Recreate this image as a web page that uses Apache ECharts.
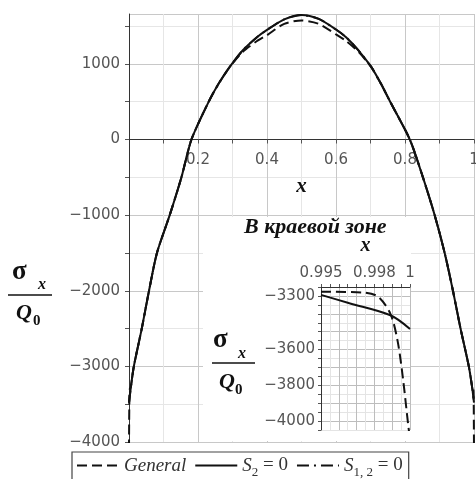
<!DOCTYPE html>
<html>
<head>
<meta charset="utf-8">
<script src="https://cdn.jsdelivr.net/npm/echarts@6/dist/echarts.min.js"></script>
<style>
html, body { margin: 0; padding: 0; background: #fff; }
#chart { width: 476px; height: 479px; }
</style>
</head>
<body>
<div id="chart"></div>
<script>
// main plot, S2 = 0 (solid); S1,2 = 0 lies on it
var mainX = [0, 0.005, 0.014, 0.037, 0.058, 0.081, 0.118, 0.152, 0.181, 0.231, 0.26, 0.292, 0.33, 0.37, 0.4, 0.45, 0.5,
    0.55, 0.6, 0.63, 0.665, 0.702, 0.73, 0.757, 0.814, 0.852, 0.886, 0.915, 0.939, 0.961, 0.985, 0.995, 1];
var s2Main = [-3480, -3290, -3000, -2500, -2000, -1500, -1000, -500, 0, 500, 740, 960, 1180, 1350, 1450, 1590, 1648,
    1595, 1455, 1350, 1180, 960, 740, 500, 0, -500, -1000, -1500, -2000, -2500, -3000, -3290, -3480];

// main plot, General (dashed)
var genX = [0, 0.0004, 0.0012, 0.002, 0.005, 0.014, 0.037, 0.058, 0.081, 0.118, 0.152, 0.181, 0.231, 0.26, 0.292, 0.33, 0.37,
    0.4, 0.45, 0.5, 0.55, 0.6, 0.63, 0.665, 0.702, 0.73, 0.757, 0.814, 0.852, 0.886, 0.915, 0.939, 0.961, 0.985,
    0.995, 0.9982, 0.9989, 0.9993, 0.9996, 1];
var genMain = [-4100, -3758, -3400, -3304, -3276, -3000, -2500, -2000, -1500, -1000, -500, 0, 500, 740, 960, 1160, 1300,
    1380, 1530, 1575, 1530, 1390, 1300, 1160, 960, 740, 500, 0, -500, -1000, -1500, -2000, -2500, -3000,
    -3276, -3304, -3400, -3550, -3758, -4100];

// inset "В краевой зоне"
var insetX = [0.995, 0.9966, 0.9989, 1];
var s2Inset = [-3294, -3341, -3408, -3485];
var genInsetX = [0.995, 0.9974, 0.9982, 0.9989, 0.9993, 0.9996, 0.9999, 1];
var genInset = [-3276, -3281, -3304, -3400, -3550, -3758, -4023, -4100];

var mainTicks = [0.2, 0.4, 0.6, 0.8, 1];
var insetXTicks = [0.995, 0.998, 1];
var insetYTicks = [-3300, -3600, -3800, -4000];

function pairs(xs, ys) {
    return xs.map(function (x, i) { return [x, ys[i]]; });
}
function near(v, list) {
    for (var i = 0; i < list.length; i++) {
        if (Math.abs(v - list[i]) < 1e-7) return true;
    }
    return false;
}
function minus(v) {
    return v < 0 ? '\u2212' + Math.abs(v) : String(v);
}

var chart = echarts.init(document.getElementById('chart'));

var tickFont = { fontFamily: 'DejaVu Sans', fontSize: 15, color: '#555' };
var serif = '"Liberation Serif", "DejaVu Serif", serif';
var dashed = [10, 5];
var dashDot = [12, 5, 2, 5];

// main grid: top 14, bottom edge at 442, y from -4000 to 1660 -> zero line sits 302.5 px above the bottom
var zeroOffset = -302.5;

var option = {
    animation: false,
    backgroundColor: '#fff',
    grid: [
        { left: 129, right: 2, top: 14, bottom: 37, outerBoundsMode: 'none' },
        { left: 321, right: 66, top: 287, bottom: 49, outerBoundsMode: 'none' }
    ],
    legend: {
        data: ['General', 'S2=0', 'S12=0'],
        left: 72,
        top: 452,
        padding: [4, 6, 12, 4],
        itemGap: 8,
        itemWidth: 42,
        itemHeight: 14,
        borderColor: '#444',
        borderWidth: 1.2,
        itemStyle: { opacity: 0 },
        formatter: function (name) {
            if (name === 'S2=0') return '{i|S}{sub|2}{n| = 0}';
            if (name === 'S12=0') return '{i|S}{sub|1, 2}{n| = 0}';
            return '{i|General}';
        },
        textStyle: {
            fontFamily: serif,
            fontSize: 19,
            color: '#333',
            rich: {
                i: { fontFamily: serif, fontStyle: 'italic', fontSize: 19, color: '#333' },
                n: { fontFamily: serif, fontSize: 19, color: '#333' },
                sub: { fontFamily: serif, fontSize: 13, color: '#333', verticalAlign: 'bottom', lineHeight: 28 }
            }
        }
    },
    xAxis: [{
        type: 'value',
        gridIndex: 0,
        min: 0,
        max: 1,
        interval: 0.1,
        offset: zeroOffset,
        name: 'x',
        nameLocation: 'middle',
        nameGap: 37,
        nameTextStyle: { fontFamily: serif, fontStyle: 'italic', fontWeight: 'bold', fontSize: 21, color: '#111' },
        axisLine: { onZero: false, lineStyle: { color: '#333' } },
        axisTick: { length: 4, lineStyle: { color: '#555' } },
        axisLabel: Object.assign({
            margin: 13,
            showMinLabel: false,
            formatter: function (v) { return near(v, mainTicks) ? String(+v.toFixed(1)) : ''; }
        }, tickFont),
        splitLine: { lineStyle: { color: ['#c8c8c8', '#e6e6e6'] } }
    }, {
        type: 'value',
        gridIndex: 1,
        position: 'top',
        min: 0.995,
        max: 1,
        interval: 0.0005,
        z: 2,
        name: 'x',
        nameLocation: 'middle',
        nameGap: 31,
        nameTextStyle: { fontFamily: serif, fontStyle: 'italic', fontWeight: 'bold', fontSize: 20, color: '#111' },
        axisLine: { lineStyle: { color: '#333' } },
        axisTick: { length: 3, lineStyle: { color: '#555' } },
        axisLabel: Object.assign({
            margin: 6,
            formatter: function (v) { return near(v, insetXTicks) ? String(+v.toFixed(3)) : ''; }
        }, tickFont),
        splitLine: { lineStyle: { color: ['#bdbdbd', '#e4e4e4'] } }
    }],
    yAxis: [{
        type: 'value',
        gridIndex: 0,
        min: -4000,
        max: 1660,
        interval: 500,
        axisLine: { show: true, onZero: false, lineStyle: { color: '#333' } },
        axisTick: { length: 4, lineStyle: { color: '#555' } },
        axisLabel: Object.assign({
            margin: 9,
            showMaxLabel: false,
            formatter: function (v) { return v % 1000 === 0 ? minus(v) : ''; }
        }, tickFont),
        splitLine: { lineStyle: { color: ['#c8c8c8', '#e6e6e6'] } }
    }, {
        type: 'value',
        gridIndex: 1,
        min: -4050,
        max: -3250,
        interval: 50,
        z: 2,
        axisLine: { show: true, lineStyle: { color: '#333' } },
        axisTick: { length: 3, lineStyle: { color: '#555' } },
        axisLabel: Object.assign({
            margin: 6,
            formatter: function (v) { return near(v, insetYTicks) ? minus(v) : ''; }
        }, tickFont),
        splitLine: { lineStyle: { color: ['#e4e4e4', '#bdbdbd'] } }
    }],
    series: [{
        name: 'S12=0',
        type: 'line',
        xAxisIndex: 0,
        yAxisIndex: 0,
        symbol: 'none',
        smooth: 0.25,
        lineStyle: { color: '#111', width: 2, type: dashDot },
        data: pairs(mainX, s2Main)
    }, {
        name: 'General',
        type: 'line',
        xAxisIndex: 0,
        yAxisIndex: 0,
        symbol: 'none',
        smooth: 0.25,
        lineStyle: { color: '#111', width: 2, type: dashed },
        data: pairs(genX, genMain)
    }, {
        name: 'S2=0',
        type: 'line',
        xAxisIndex: 0,
        yAxisIndex: 0,
        symbol: 'none',
        smooth: 0.25,
        lineStyle: { color: '#111', width: 2, type: 'solid' },
        data: pairs(mainX, s2Main)
    }, {
        name: 'General',
        type: 'line',
        xAxisIndex: 1,
        yAxisIndex: 1,
        z: 5,
        symbol: 'none',
        smooth: 0.3,
        lineStyle: { color: '#111', width: 2, type: dashed },
        data: pairs(genInsetX, genInset)
    }, {
        name: 'S2=0',
        type: 'line',
        xAxisIndex: 1,
        yAxisIndex: 1,
        z: 5,
        symbol: 'none',
        smooth: 0.3,
        lineStyle: { color: '#111', width: 2, type: 'solid' },
        data: pairs(insetX, s2Inset)
    }],
    graphic: {
        elements: [
            // white panel behind the inset
            { type: 'rect', z: 1, shape: { x: 203, y: 217, width: 208, height: 224 }, style: { fill: '#fff' } },
            { type: 'text', z: 10, left: 244, top: 216,
              style: { text: 'В краевой зоне', font: 'italic bold 22px ' + serif, fill: '#111' } },

            // main y label: sigma_x / Q_0
            { type: 'text', z: 10, x: 12, y: 272, style: { text: 'σ', font: 'bold 27px ' + serif, fill: '#111', verticalAlign: 'middle' } },
            { type: 'text', z: 10, x: 38, y: 285, style: { text: 'x', font: 'italic bold 16px ' + serif, fill: '#111', verticalAlign: 'middle' } },
            { type: 'line', z: 10, shape: { x1: 8, y1: 295, x2: 52, y2: 295 }, style: { stroke: '#111', lineWidth: 1.5 } },
            { type: 'text', z: 10, x: 16, y: 313, style: { text: 'Q', font: 'italic bold 22px ' + serif, fill: '#111', verticalAlign: 'middle' } },
            { type: 'text', z: 10, x: 33, y: 321, style: { text: '0', font: 'bold 15px ' + serif, fill: '#111', verticalAlign: 'middle' } },

            // inset y label
            { type: 'text', z: 10, x: 213, y: 340, style: { text: 'σ', font: 'bold 27px ' + serif, fill: '#111', verticalAlign: 'middle' } },
            { type: 'text', z: 10, x: 238, y: 354, style: { text: 'x', font: 'italic bold 16px ' + serif, fill: '#111', verticalAlign: 'middle' } },
            { type: 'line', z: 10, shape: { x1: 212, y1: 363, x2: 255, y2: 363 }, style: { stroke: '#111', lineWidth: 1.5 } },
            { type: 'text', z: 10, x: 219, y: 382, style: { text: 'Q', font: 'italic bold 22px ' + serif, fill: '#111', verticalAlign: 'middle' } },
            { type: 'text', z: 10, x: 235, y: 390, style: { text: '0', font: 'bold 15px ' + serif, fill: '#111', verticalAlign: 'middle' } }
        ]
    }
};

chart.setOption(option);
</script>
</body>
</html>
